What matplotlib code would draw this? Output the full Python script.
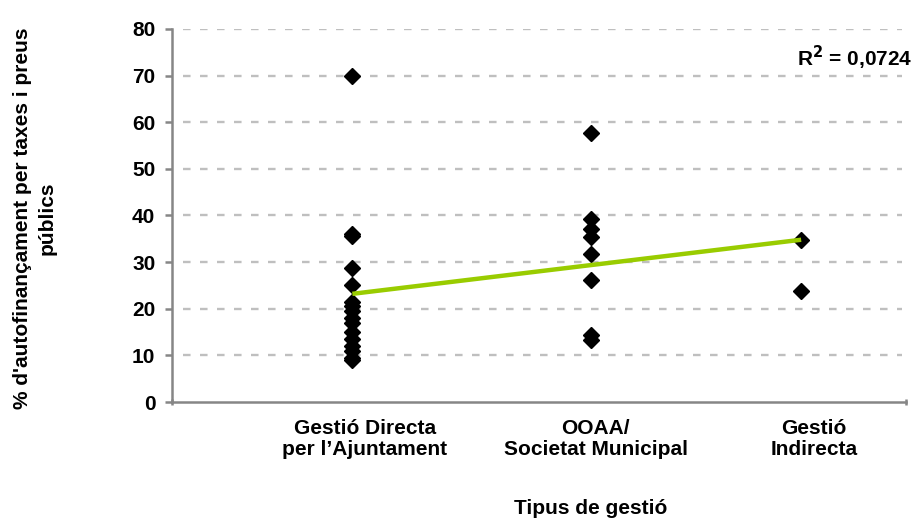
import matplotlib
matplotlib.use("Agg")
import matplotlib.pyplot as plt
import numpy as np

plt.rcParams['font.family'] = ['Liberation Sans', 'DejaVu Sans']

# Data
group_x = [0.86, 2.0, 3.0]
group_vals = [
    [70, 36, 35.5, 28.7, 25, 21.5, 20.5, 19.5, 18, 17, 15, 13.5, 12, 11, 9.5, 9],
    [57.6, 39.3, 37.2, 35.4, 31.7, 26.2, 14.3, 13.2],
    [34.8, 23.9],
]
category_labels = ["Gestió Directa\nper l’Ajuntament", "OOAA/\nSocietat Municipal", "Gestió\nIndirecta"]
label_x = [0.92, 2.02, 3.06]
trend_x = [0.86, 3.0]
trend_y = [23.2, 34.8]
yticks = [0, 10, 20, 30, 40, 50, 60, 70, 80]
r2_text = "R$^\\mathbf{2}$ = 0,0724"

FS = 15

fig = plt.figure(figsize=(9.14, 5.2), dpi=100)
ax = fig.add_axes([172/914, 1-402/520, (906-172)/914, (402-29)/520])

ax.set_xlim(0, 3.5)
ax.set_ylim(0, 80)

# gridlines
for y in yticks[1:]:
    ax.axhline(y, xmin=0.015, xmax=0.995, color='#bfbfbf', lw=1.7, ls=(0, (3.2, 4.0)), zorder=1)

for gx, vals in zip(group_x, group_vals):
    ax.plot([gx]*len(vals), vals, ls='none', marker='D', ms=8.2, color='black', zorder=3)

ax.plot(trend_x, trend_y, color='#99cc00', lw=3.2, zorder=4, solid_capstyle='butt')

for s in ['top', 'right']:
    ax.spines[s].set_visible(False)
for s in ['left', 'bottom']:
    ax.spines[s].set_color('#868686')
    ax.spines[s].set_linewidth(1.8)

ax.set_yticks(yticks)
ax.set_yticklabels([str(v) for v in yticks], fontsize=FS, fontweight='bold')
ax.tick_params(axis='y', length=5, width=1.8, color='#868686', pad=7)
ax.set_xticks([0, 3.5])
ax.set_xticklabels(['', ''])
ax.tick_params(axis='x', length=5, width=1.8, color='#868686', direction='inout')

for lx, lab in zip(label_x, category_labels):
    ax.text(lx, -3.7, lab, ha='center', va='top', fontsize=FS, fontweight='bold',
            linespacing=1.1, transform=ax.transData, clip_on=False)

fig.text(591/914, 1-509/520, "Tipus de gestió", ha='center', va='center', fontsize=FS, fontweight='bold')
fig.text(35/914, 1-218/520, "% d'autofinançament per taxes i preus\npúblics", ha='center', va='center',
         rotation=90, fontsize=FS, fontweight='bold', linespacing=1.4)

fig.text(912/914, 1-58/520, r2_text, ha='right', va='center', fontsize=FS, fontweight='bold')

fig.savefig("out.png", dpi=100)
